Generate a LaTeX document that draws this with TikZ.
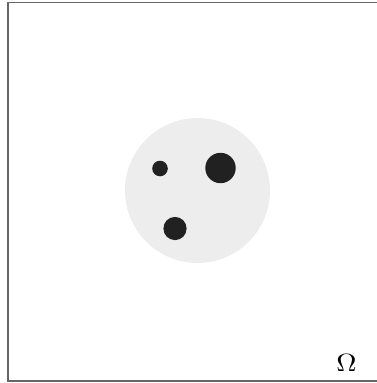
\documentclass[tikz,border=0pt]{standalone}
\begin{document}
\begin{tikzpicture}[x=1pt,y=-1pt,
  frame/.style={draw=black!60, line width=1.4pt},
  hole/.style={fill=black!87, draw=none},
  diskfill/.style={fill=black!7, draw=none}]
\useasboundingbox (0,0) rectangle (377,383);
\coordinate (tl) at (7.8,2.7);
\coordinate (tr) at (377,2.7);
\coordinate (bl) at (7.8,380.8);
\coordinate (br) at (377,380.8);
\draw[frame] (tr) -- (tl) -- (bl) -- (br);
\fill[diskfill] (197.5,190.5) circle (72.5);
\fill[hole] (160,168.5) circle (7.8);
\fill[hole] (220.5,168) circle (15.2);
\fill[hole] (175,228.5) circle (11.6);
\node[xscale=2.8, yscale=2.5, inner sep=0pt] (omega) at (346.5,363) {$\Omega$};
\end{tikzpicture}
\end{document}
